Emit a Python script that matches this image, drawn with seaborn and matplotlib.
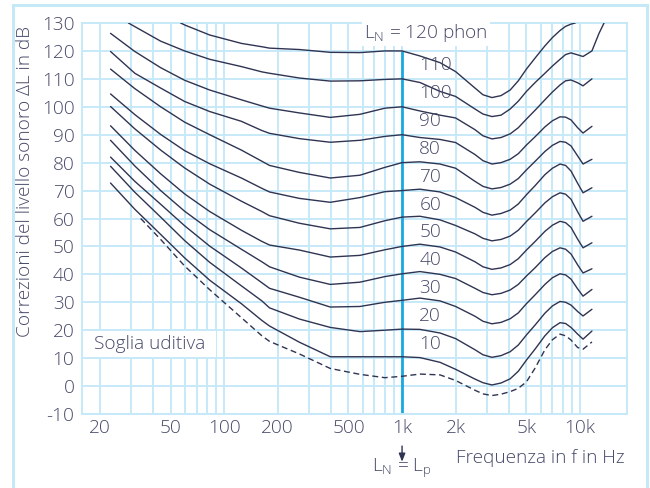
import numpy as np
import pandas as pd
import matplotlib
matplotlib.use("Agg")
import matplotlib.pyplot as plt
import seaborn as sns
from matplotlib.patches import Rectangle
from matplotlib.ticker import FixedLocator, LogLocator, NullFormatter

n = np.nan

# frequency grid (Hz) shared by all curves, nan = curve not drawn there
freq = [23, 29, 31.5, 34, 44, 57, 60, 83, 125, 163, 180, 265, 395, 580, 800, 1000,
        1260, 1635, 2000, 2570, 2850, 3200, 3600, 4050, 4500, 5000, 5600, 6350,
        7000, 7720, 8300, 8900, 9400, 9700, 10400, 11670, 12790, 13650]

curve_120 = [n, n, n, n, n, 130, 129.3, 125.7, 122.7, 121.5, 121, 120.5, 119.5, 119.4, 120, 120,
             118.2, 115.8, 112.6, 106.7, 104.3, 103.3, 104, 106, 109.3, 113.5, 117.5, 121.8,
             124.8, 127.3, 128.8, 129.6, 130, n, n, n, n, n]
curve_110 = [n, 130, 128.7, n, 123.5, n, 120, 117, 114.4, 112.5, 112, 110.3, 109.2, 109.3, 109.8, 110,
             108.7, 105.5, 103.7, 99.2, 97.4, 96.5, 97, 99.2, 102, 105.5, 108.7, 112,
             114.6, 117, 118.7, 119.3, n, 118.6, 118, 120, 126.3, 130]
curve_100 = [126.3, n, 119.8, n, 114, n, 109.5, 106, 102.5, 100.3, 99.5, 97.8, 96.2, 97.3, 99.5, 100,
             98.5, 97, 96, 91.8, 89.6, 88.5, 89, 90.3, 92.5, 95.6, 98.8, 102.5,
             105.3, 107.8, 109.3, 109.6, n, 108.6, 107.5, 110, n, n]
curve_90 = [119.8, n, 112, n, 106.7, n, 101.9, 98.3, 94.8, 91.5, 90.5, 88.6, 87.3, 88, 89.4, 90,
            89, 88.3, 87.2, 82.9, 80.7, 79.5, 80, 81.2, 83.2, 86.3, 89.3, 92.8,
            95, 96.4, 96.3, 95.3, n, 92.5, 90.6, 93, n, n]
curve_80 = [113.5, n, 106.5, n, 100, n, 94.5, 90, 84.5, 80.5, 79, 76.5, 74.5, 75.5, 78.3, 80,
            80.3, 79.5, 78, 73.3, 71.5, 70.6, 71.1, 72.3, 74.3, 77.4, 80.5, 84,
            86.2, 87.6, 87.3, 86, n, 82.4, 79.5, 81.2, n, n]
curve_70 = [104.6, n, 97.2, n, 90.1, n, 84.3, 79.6, 74.5, 70.8, 69.5, 67.2, 65.8, 67.5, 69.6, 70,
            70.5, 69.5, 67.5, 64, 62.2, 61.2, 61.8, 63, 65.2, 68.5, 71.8, 75.7,
            78, 79.5, 79, 77, n, 72.6, 69.2, 71, n, n]
curve_60 = [100.1, n, 92.1, n, 84.5, n, 78.1, 72.3, 66.2, 62.5, 61, 58.3, 56.3, 56.8, 59.2, 60.5,
            60.8, 59.5, 57.5, 54.5, 52.9, 52, 52.5, 53.7, 55.8, 58.9, 62, 65.6,
            67.8, 69.2, 68.7, 66.9, n, 62.4, 59, 60.8, n, n]
curve_50 = [93.2, n, 84.4, n, 76, n, 68.8, 62.5, 55.8, 51.8, 50.5, 48.7, 46.2, 46.8, 48.8, 50,
            50.8, 49.8, 48, 44.5, 42.7, 41.8, 42.3, 43.5, 45.6, 48.7, 51.8, 55.4,
            57.6, 59, 58.5, 56.8, n, 52.6, 49.5, 51.3, n, n]
curve_40 = [88, n, 78.8, n, 70, n, 62.6, 56, 49, 44.5, 42.7, 39, 36.4, 37.2, 39.2, 40.2,
            41, 40, 38.5, 35, 33.5, 32.7, 33.2, 34.4, 36.4, 39.4, 42.4, 46,
            48.2, 49.5, 49, 47.3, n, 43.4, 40.5, 42, n, n]
curve_30 = [82, n, 73.3, n, 65.1, n, 57.4, 50.1, 42.3, 37, 35, 31.8, 28.3, 28.5, 30, 30.7,
            31.5, 30.5, 28.5, 25, 23.2, 22.3, 22.8, 24.1, 26.2, 29.5, 32.7, 36.4,
            38.8, 40.2, 39.8, 38.3, n, 34.8, 32.2, 34.6, n, n]
curve_20 = [78.7, n, 69.4, n, 60.5, n, 52.1, 44.3, 35.9, 30.5, 28, 24, 21, 19.5, 20, 20.4,
            20.3, 19, 17, 13, 11.2, 10.3, 10.9, 12.3, 14.7, 18.3, 21.9, 26.1,
            28.7, 30.3, 30, 29, n, 26.7, 25.1, 27.5, n, n]
curve_10 = [72.7, n, 63.3, n, 54.3, n, 45.9, 37.9, 29.5, 23.5, 21.5, 15.7, 10.5, 10.5, 10.5, 10.5,
            10.2, 8.5, 6, 2.5, 1.2, 0.4, 1.1, 2.6, 5.3, 9.3, 13.3, 18,
            20.9, 22.7, 22.4, 21, n, 18.6, 16.8, 19.7, n, n]
# hearing threshold (dashed)
threshold = [n, n, n, 60, 52.5, n, 43, 34.5, 24.5, 18, 16, 11.5, 6.3, 4.2, 3, 3.5,
             4.3, 4, 2, -1.5, -2.8, -3.4, -2.9, -2, -0.8, 1.5, 6.5, 13,
             16.6, 18.6, 18, 16.5, n, 13.8, 13.2, 15.8, n, n]

phon_levels = [120, 110, 100, 90, 80, 70, 60, 50, 40, 30, 20, 10]
curves = [curve_120, curve_110, curve_100, curve_90, curve_80, curve_70,
          curve_60, curve_50, curve_40, curve_30, curve_20, curve_10]

tick_freqs = [20, 50, 100, 200, 500, 1000, 2000, 5000, 10000]
tick_labels = ["20", "50", "100", "200", "500", "1k", "2k", "5k", "10k"]
db_ticks = list(range(-10, 131, 10))

ref_freq = 1000      # L_N = L_p reference line
ref_top = 120

GRID = "#c6e9f8"
CURVE = "#2f3452"
TEXT = "#464a68"
BLUE = "#19a9e2"
FS = 13.7

# long form table for seaborn
df = pd.concat([pd.DataFrame({"f": freq, "dB": lv, "phon": p})
                for p, lv in zip(phon_levels, curves)]).dropna()
thr = pd.DataFrame({"f": freq, "dB": threshold}).dropna()

sns.set_theme(style="white")
plt.rcParams["font.family"] = ["Open Sans", "DejaVu Sans"]
plt.rcParams["font.weight"] = "light"
plt.rcParams["text.color"] = TEXT
plt.rcParams["axes.unicode_minus"] = False

fig = plt.figure(figsize=(6.5, 4.88), dpi=100)
ax = fig.add_axes([82 / 650, 1 - 414 / 488, 545 / 650, 391 / 488])
ax.set_xscale("log")

sns.lineplot(data=df, x="f", y="dB", units="phon", estimator=None, sort=False,
             color=CURVE, lw=1.0, ax=ax, zorder=3)
sns.lineplot(data=thr, x="f", y="dB", sort=False, color=CURVE, lw=1.0,
             linestyle=(0, (4.3, 2.6)), ax=ax, zorder=3)

ax.vlines(ref_freq, -10, ref_top, color=BLUE, lw=2.0, zorder=2.5)

ax.set_xlim(15.9, 18370)
ax.set_ylim(-10, 130)
ax.xaxis.set_major_locator(FixedLocator(tick_freqs))
ax.set_xticklabels(tick_labels)
ax.xaxis.set_minor_locator(LogLocator(base=10, subs=np.arange(1, 10)))
ax.xaxis.set_minor_formatter(NullFormatter())
ax.set_yticks(db_ticks)
ax.set_xlabel("")
ax.set_ylabel("")

ax.set_axisbelow(True)
ax.grid(which="both", axis="x", color=GRID, lw=1.4)
ax.grid(which="major", axis="y", color=GRID, lw=1.4)
for s in ax.spines.values():
    s.set_color(GRID)
    s.set_linewidth(1.4)
ax.tick_params(which="both", length=0, labelsize=FS, labelcolor=TEXT)
ax.tick_params(axis="x", pad=3.5)
ax.tick_params(axis="y", pad=5.5)

# white band behind "Soglia uditiva"
ax.add_patch(Rectangle((15.9, 10.45), 90 - 15.9, 9.1, facecolor="white",
                       edgecolor="none", zorder=1))
ax.text(18.6, 15, "Soglia uditiva", fontsize=FS, va="center", ha="left", zorder=4)

for p in phon_levels[1:]:
    ax.text(1250, p + 5, str(p), fontsize=FS, va="center", ha="left", zorder=4)

ax.text(610, 126.3, r"L$_\mathregular{N}$ = 120 phon", fontsize=FS, va="center",
        ha="left", zorder=4,
        bbox=dict(facecolor="white", edgecolor="none", pad=1.5))

xt = ax.get_xaxis_transform()
ax.annotate("", xy=(ref_freq, -0.122), xytext=(ref_freq, -0.082), xycoords=xt,
            textcoords=xt, annotation_clip=False,
            arrowprops=dict(arrowstyle="-|>,head_width=0.16,head_length=0.4",
                            color=CURVE, lw=1.0, shrinkA=0, shrinkB=0))
ax.text(ref_freq, -0.14, r"L$_\mathregular{N}$ = L$_\mathregular{p}$", transform=xt,
        fontsize=FS, ha="center", va="center")
ax.text(0.996, -0.113, "Frequenza in f in Hz", transform=ax.transAxes,
        fontsize=FS, ha="right", va="center")

fig.text(25 / 650, 1 - 181 / 488, "Correzioni del livello sonoro ΔL in dB",
         rotation=90, ha="center", va="center", fontsize=FS)

# light blue frame around the whole figure
fig.patches.append(Rectangle((13 / 650, -0.02), 634 / 650, 1.02 - 5 / 488,
                             transform=fig.transFigure, fill=False,
                             edgecolor=GRID, lw=2.2))

fig.savefig("out.png", dpi=100)
